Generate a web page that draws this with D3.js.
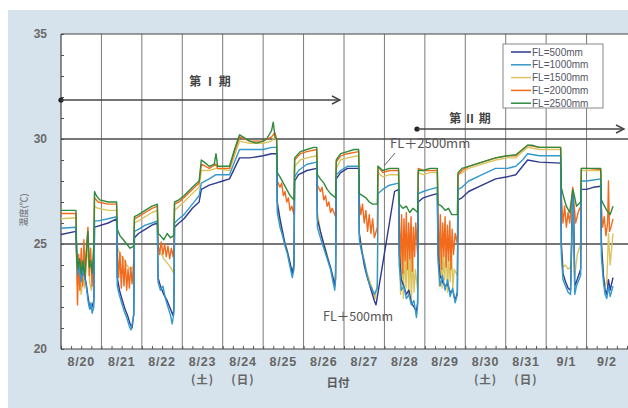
<!DOCTYPE html>
<html><head><meta charset="utf-8">
<script src="https://cdn.jsdelivr.net/npm/d3@7"></script>
<style>body{margin:0;background:#fff;} svg{display:block}</style>
</head><body><svg id="c" width="628" height="408"></svg>
<script>
// ---- data (hours from 8/20 00:00, °C) ----
const dayLabels = ["8/20","8/21","8/22","8/23","8/24","8/25","8/26","8/27","8/28","8/29","8/30","8/31","9/1","9/2"];
const dowLabels = [[3,"(土)"],[4,"(日)"],[10,"(土)"],[11,"(日)"]];
const yTicks = [20,25,30,35];
const seriesNames = ["FL=500mm","FL=1000mm","FL=1500mm","FL=2000mm","FL=2500mm"];
const seriesColors = ["#2d3a8f","#3399cc","#dcc35e","#f26a1b","#2e8b3e"];

const fl2500 = [[0,26.6],[8.9,26.6],[9.3,24.4],[10,23.8],[11,24.3],[12,23.6],[13,24.2],[14,23.5],[15,24.5],[16,25.6],[16.8,23.9],[17.6,24.2],[18.5,23.6],[19.5,25.0],[19.9,27.5],[21,27.3],[23,27.1],[28,27.0],[33,27.0],
[33.4,25.7],[35,25.4],[37,25.2],[39,25.0],[41,24.8],[43.2,24.9],[43.6,26.3],[46,26.4],[50,26.6],[54,26.8],[57.2,26.9],
[57.6,25.5],[59,25.4],[61,25.2],[63,25.5],[65,25.3],[67,25.4],[67.4,27.0],[70,27.1],[73,27.3],[78,27.7],[82,28.0],[83.3,29.0],[85,28.9],[88,28.7],[91,28.8],[92,29.3],[93,28.7],[100,28.7],[103,29.5],[106,30.2],[108,30.1],[112,29.9],[116,29.8],[120,29.9],[122,30.0],[125,30.4],[126,30.8],[127,30.1],[128,30.0],
[128.4,28.4],[130,28.2],[132,27.9],[134,27.6],[136,27.3],[138.3,27.1],[138.7,29.1],[142,29.4],[146,29.5],[150,29.6],[151.8,29.6],
[152.2,28.3],[154,28.1],[156,27.9],[158,27.6],[160,27.4],[163,27.2],[163.4,29.0],[166,29.3],[170,29.4],[174,29.5],[176.7,29.5],
[177.1,27.4],[179,27.3],[181,27.2],[183,27.0],[185,26.9],[187.8,26.9],[188.2,28.7],[191,28.5],[195,28.6],[200.4,28.6],
[200.8,26.9],[203,26.7],[205,26.8],[207,26.5],[209,26.7],[211.7,26.5],[212.1,28.5],[215,28.5],[219,28.6],[223.4,28.6],
[223.8,26.9],[226,26.8],[228,26.6],[230,26.7],[232,26.4],[235.3,26.4],[235.7,28.4],[238,28.6],[242,28.7],[250,28.9],[258,29.1],[265,29.2],[270,29.25],[274,29.5],[277,29.7],[280,29.7],[284,29.6],[296.6,29.6],
[297,27.7],[298.5,27.2],[300,26.8],[302,26.5],[303.8,27.6],[304.5,27.4],[306,26.8],[308.5,27.0],[308.9,28.6],[312,28.6],[316,28.6],[320.4,28.6],
[320.8,27.1],[322,26.9],[324,26.6],[326,26.4],[327.7,26.8]];

const fl2000 = [[0,26.45],[8.9,26.45],[9.3,24.0],[9.8,22.1],[10.5,24.5],[11.2,22.8],[12,24.8],[12.8,23.0],[13.6,25.2],[14.4,23.4],[15.2,25.0],[16,25.8],[16.8,23.5],[17.6,24.8],[18.4,23.0],[19.5,24.6],[19.9,27.2],[22,27.0],[28,26.9],[33,26.9],
[33.4,24.8],[34.2,23.4],[35,24.6],[35.8,22.9],[36.6,24.4],[37.4,23.0],[38.2,24.2],[39,22.8],[39.8,23.8],[40.6,22.9],[41.4,23.9],[42.2,23.1],[43.2,24.2],[43.6,26.2],[46,26.3],[50,26.5],[54,26.7],[57.2,26.8],
[57.6,25.0],[58.5,24.5],[59.5,25.1],[60.5,24.5],[61.5,25.0],[62.5,24.4],[63.5,24.9],[64.5,24.3],[65.5,24.8],[66.5,24.4],[67,24.8],[67.4,26.9],[70,27.0],[73,27.2],[78,27.6],[82,27.9],[83.3,28.8],[88,28.6],[92,28.8],[93,28.6],[100,28.6],[103,29.4],[106,30.1],[112,29.9],[120,29.9],[125,30.1],[127,30.3],[128,30.0],
[128.4,28.0],[130,27.7],[131,27.9],[132,27.3],[133,27.5],[134,27.0],[135,27.2],[136,26.6],[137,26.8],[138.3,26.4],[138.7,29.0],[142,29.3],[146,29.4],[151.8,29.5],
[152.2,27.8],[154,27.5],[155,27.7],[156,27.1],[157,27.3],[158,26.8],[159,27.0],[160,26.5],[161,26.7],[163,26.3],[163.4,28.9],[166,29.2],[170,29.3],[176.7,29.4],
[177.1,27.0],[178,26.4],[179,26.9],[180,26.0],[181,26.6],[182,25.6],[183,26.4],[184,25.5],[185,26.2],[186,25.3],[187.8,25.8],[188.2,28.7],[191,28.4],[195,28.5],[200.4,28.5],
[200.8,26.3],[201.5,24.0],[202.2,26.4],[202.9,23.6],[203.6,26.2],[204.3,24.2],[205,26.5],[205.7,23.8],[206.4,26.0],[207.1,24.3],[207.8,26.3],[208.5,23.7],[209.2,25.8],[209.9,24.4],[210.6,26.0],[211.7,24.5],[212.1,28.6],[215,28.5],[219,28.5],[223.4,28.5],
[223.8,26.2],[224.5,24.2],[225.2,26.4],[225.9,23.8],[226.6,26.0],[227.3,24.4],[228,26.3],[228.7,23.9],[229.4,25.9],[230.1,24.2],[230.8,26.1],[231.5,23.8],[232.2,25.7],[233,24.5],[234,25.5],[235.3,25.0],[235.7,28.3],[238,28.5],[242,28.7],[250,28.9],[258,29.1],[265,29.2],[270,29.2],[274,29.5],[277,29.7],[284,29.6],[296.6,29.6],
[297,27.3],[298,26.0],[299,26.8],[300,25.8],[301,26.5],[302,26.0],[303.8,27.7],[304.5,27.0],[305.5,26.0],[307,26.5],[308.5,26.8],[308.9,28.6],[312,28.6],[320.4,28.55],
[320.8,26.8],[321.5,25.8],[322.5,26.3],[323.5,25.4],[324.5,26.0],[325,28.0],[325.6,25.6],[326.5,25.8],[327.7,26.2]];

const fl1500 = [[0,26.2],[8.9,26.25],[9.3,24.2],[10,23.0],[11,23.6],[12,22.6],[13,23.4],[14,22.9],[15,24.0],[16,25.0],[17,23.2],[18,22.8],[19.5,23.6],[19.9,26.8],[22,26.7],[28,26.6],[33,26.6],
[33.4,24.9],[35,24.5],[37,24.3],[39,24.0],[41,23.8],[43.2,23.9],[43.6,26.0],[46,26.1],[50,26.3],[54,26.5],[57.2,26.6],
[57.6,24.9],[59,24.6],[61,24.3],[63,24.1],[65,23.9],[67,23.6],[67.4,26.6],[70,26.8],[73,27.0],[78,27.4],[82,27.7],[83.3,28.5],[88,28.5],[92,28.6],[100,28.5],[103,29.2],[106,29.9],[112,29.8],[120,29.8],[125,29.9],[127,30.1],[128,29.9],
[128.4,26.8],[130,26.0],[132,25.3],[134,24.8],[136,24.0],[137,23.7],[138.3,24.0],[138.7,28.7],[142,29.0],[146,29.1],[151.8,29.2],
[152.2,26.5],[154,25.6],[156,25.0],[158,24.5],[160,23.8],[162,23.1],[163,23.6],[163.4,28.6],[166,29.0],[170,29.1],[176.7,29.2],
[177.1,25.5],[179,24.6],[181,23.8],[183,23.3],[185,22.8],[186.5,22.4],[187.8,23.2],[188.2,28.4],[191,28.2],[195,28.3],[200.4,28.3],
[200.8,25.3],[201.6,22.6],[202.4,25.0],[203.2,22.4],[204,24.6],[204.8,22.9],[205.6,25.2],[206.4,22.5],[207.2,24.8],[208,22.3],[208.8,24.5],[209.6,22.7],[210.4,23.8],[211.7,22.8],[212.1,28.4],[215,28.3],[219,28.4],[223.4,28.4],
[223.8,25.5],[224.6,23.0],[225.4,25.0],[226.2,22.9],[227,24.5],[227.8,23.3],[228.6,25.2],[229.4,22.7],[230.2,24.4],[231,23.2],[231.8,24.8],[232.6,22.9],[233.4,23.8],[235.3,23.5],[235.7,28.3],[238,28.4],[242,28.6],[250,28.8],[258,29.0],[265,29.1],[270,29.1],[274,29.4],[277,29.6],[284,29.5],[296.6,29.5],
[297,25.0],[298,23.9],[299.5,24.0],[301,23.8],[302.5,23.9],[303.8,27.6],[304.5,25.5],[305,23.5],[306.5,24.5],[308.5,25.0],[308.9,28.5],[312,28.5],[320.4,28.5],
[320.8,25.2],[322,23.5],[323,23.0],[324,23.2],[325,25.5],[326,24.0],[327.7,25.5]];

const fl1000 = [[0,25.75],[8.9,25.8],[9.3,24.5],[10,23.5],[11,24.0],[12,23.2],[13,23.8],[14,23.4],[15,23.0],[16,22.3],[17,21.9],[17.8,22.2],[18.5,21.7],[19.5,22.0],[19.9,26.1],[22,26.1],[28,26.2],[33,26.3],
[33.4,23.0],[34.5,22.6],[36,22.2],[37.5,21.8],[39,21.5],[40.5,21.1],[41.5,20.9],[42.5,21.3],[43.2,21.6],[43.6,25.6],[46,25.7],[50,25.9],[54,26.0],[57.2,26.1],
[57.6,23.2],[59,22.8],[60.5,23.0],[62,22.4],[63.5,22.0],[65,21.6],[66,21.2],[67,21.7],[67.4,26.0],[70,26.2],[73,26.4],[78,26.9],[82,27.3],[83.3,27.9],[88,28.1],[92,28.3],[100,28.3],[103,28.9],[106,29.5],[112,29.5],[120,29.5],[125,29.6],[128,29.6],
[128.4,26.5],[130,25.8],[131.5,25.4],[133,24.9],[134.5,24.5],[136,23.9],[137.3,23.4],[138.3,23.8],[138.7,28.2],[141,28.5],[146,28.8],[151.8,28.9],
[152.2,25.8],[154,25.3],[156,24.8],[158,24.3],[160,23.8],[161.5,23.2],[162.5,22.8],[163,23.3],[163.4,28.3],[166,28.5],[170,28.7],[176.7,28.7],
[177.1,25.2],[178.5,24.6],[180,24.2],[181.5,23.6],[183,23.1],[184.5,22.9],[186,22.6],[187.8,22.9],[188.2,27.4],[191,27.6],[195,27.8],[200.4,27.9],
[200.8,24.0],[202,22.8],[203.5,23.0],[205,22.4],[206.5,22.6],[208,22.1],[209.5,22.3],[211,21.5],[211.7,22.0],[212.1,27.4],[215,27.5],[219,27.6],[223.4,27.7],
[223.8,24.2],[225,23.0],[226.5,23.5],[228,22.8],[229.5,23.3],[231,22.5],[232.5,22.9],[234,22.2],[235.3,22.6],[235.7,27.6],[238,27.7],[242,28.0],[250,28.3],[258,28.6],[265,28.6],[270,28.7],[274,29.0],[277,29.3],[284,29.2],[296.6,29.2],
[297,24.5],[298,23.3],[299.5,23.0],[301,22.7],[302.5,22.6],[303.8,27.5],[304.3,26.0],[305,22.6],[306,23.0],[308.5,23.5],[308.9,28.0],[312,28.0],[316,28.05],[320.4,28.1],
[320.8,24.4],[322,23.2],[323,22.6],[324,22.4],[325,23.0],[326,22.5],[327.7,23.0]];

const fl500 = [[0,25.45],[8.9,25.6],[9.3,24.6],[10,23.8],[11,24.2],[12,23.4],[13,23.9],[14,23.5],[15,23.1],[16,22.5],[17,22.0],[18,21.9],[19.5,22.3],[19.9,25.8],[22,25.85],[28,26.0],[33,26.2],
[33.4,23.4],[35,22.7],[36.5,22.3],[38,21.9],[39.5,21.6],[41,21.2],[42.2,21.0],[43.2,21.7],[43.6,25.3],[46,25.5],[50,25.7],[54,25.9],[57.2,26.0],
[57.6,23.4],[59,23.0],[61,22.6],[63,22.3],[65,21.9],[66.5,21.6],[67,21.9],[67.4,25.8],[70,26.0],[73,26.2],[78,26.7],[82,27.0],[83.3,27.6],[88,27.8],[92,27.9],[96,28.0],[100,28.1],[103,28.6],[106,29.1],[112,29.1],[120,29.2],[125,29.3],[128,29.3],
[128.4,27.0],[130,26.2],[131.5,25.6],[133,25.0],[134.5,24.6],[136,24.1],[137.3,23.6],[138.3,24.0],[138.7,28.0],[141,28.3],[146,28.5],[151.8,28.6],
[152.2,26.2],[154,25.6],[156,25.0],[158,24.4],[160,23.9],[161.5,23.4],[162.5,23.0],[163,23.4],[163.4,28.1],[166,28.4],[170,28.6],[176.7,28.6],
[177.1,25.5],[178.5,24.7],[180,24.0],[181.5,23.5],[183,23.1],[184.5,22.7],[186,22.3],[187,22.1],[198,27.5],[200.4,27.6],
[200.8,24.5],[202,23.3],[203.5,23.0],[205,22.6],[206.5,22.8],[208,22.2],[209.5,22.0],[211,21.8],[211.7,22.2],[212.1,27.0],[215,27.2],[219,27.3],[223.4,27.4],
[223.8,24.6],[225,23.5],[226.5,23.2],[228,23.0],[229.5,23.1],[231,22.7],[232.5,22.8],[234,22.3],[235.3,22.7],[235.7,27.1],[238,27.2],[242,27.5],[250,27.8],[258,28.1],[265,28.2],[270,28.3],[274,28.7],[277,29.0],[284,28.9],[296.6,28.85],
[297,25.0],[298,23.6],[299.5,23.2],[301,22.9],[302.5,22.8],[303.8,27.3],[304.3,26.5],[305,23.0],[306,23.2],[308.5,23.8],[308.9,27.6],[312,27.6],[316,27.7],[320.4,27.75],
[320.8,25.0],[322,23.5],[323,22.8],[324,22.6],[325,23.3],[326,22.8],[327.7,23.4]];

const seriesData = [fl500, fl1000, fl1500, fl2000, fl2500];
const drawOrder = [2, 3, 0, 1, 4];

// ---- layout ----
const svg = d3.select("#c");
const L = 61, R = 627, T = 34, B = 349;
const x = d3.scaleLinear().domain([0, 336]).range([L, R]);
const y = d3.scaleLinear().domain([20, 35]).range([B, T]);
const num = "'Liberation Sans', Arial, sans-serif";
const cjk = "'Noto Sans CJK JP', sans-serif";

svg.append("rect").attr("width",628).attr("height",408).attr("fill","#ffffff");
svg.append("rect").attr("x",8).attr("y",10).attr("width",620).attr("height",398).attr("fill","#d6e3ec");
svg.append("rect").attr("x",L).attr("y",T).attr("width",R-L+1).attr("height",B-T).attr("fill","#ffffff");

// vertical day grid
svg.append("g").selectAll("line").data(d3.range(1,14)).join("line")
  .attr("x1",d=>x(d*24)).attr("x2",d=>x(d*24)).attr("y1",T).attr("y2",B)
  .attr("stroke","#7a7a7a").attr("stroke-width",1);
// horizontal grid at 25, 30
svg.append("g").selectAll("line").data([25,30]).join("line")
  .attr("x1",L).attr("x2",628).attr("y1",d=>y(d)).attr("y2",d=>y(d))
  .attr("stroke","#4a4a4a").attr("stroke-width",1.3);

// axes
const yAxis = d3.axisLeft(y).tickValues(d3.range(20,36,1)).tickSize(-3).tickFormat("");
const gy = svg.append("g").attr("transform",`translate(${L},0)`).call(yAxis);
gy.select(".domain").remove();
gy.selectAll("line").attr("stroke","#555");
const xAxis = d3.axisBottom(x).tickValues(d3.range(0,337,6)).tickSize(-3).tickFormat("");
const gx = svg.append("g").attr("transform",`translate(0,${B})`).call(xAxis);
gx.select(".domain").remove();
gx.selectAll("line").attr("stroke","#555");

// frame
svg.append("line").attr("x1",L).attr("x2",628).attr("y1",T).attr("y2",T).attr("stroke","#444").attr("stroke-width",1.2);
svg.append("line").attr("x1",L).attr("x2",628).attr("y1",B).attr("y2",B).attr("stroke","#444").attr("stroke-width",1.2);
svg.append("line").attr("x1",L).attr("x2",L).attr("y1",T).attr("y2",B).attr("stroke","#444").attr("stroke-width",1.2);

// y labels
svg.append("g").selectAll("text").data(yTicks).join("text")
  .attr("x",47).attr("y",d=>y(d)+4).attr("text-anchor","end")
  .attr("font-family",num).attr("font-size",12).attr("font-weight","bold")
  .attr("fill","#6a6a6a").text(d=>d);
svg.append("text").attr("transform","translate(27,210) rotate(-90)")
  .attr("text-anchor","middle").attr("font-family",cjk).attr("font-size",9)
  .attr("fill","#666").text("温度(℃)");

// x labels
svg.append("g").selectAll("text").data(dayLabels).join("text")
  .attr("x",(d,i)=>x(i*24+12)).attr("y",366).attr("text-anchor","middle")
  .attr("font-family",num).attr("font-size",12.5).attr("font-weight","bold")
  .attr("letter-spacing",0.8).attr("fill","#666").text(d=>d);
svg.append("g").selectAll("text").data(dowLabels).join("text")
  .attr("x",d=>x(d[0]*24+12)).attr("y",384).attr("text-anchor","middle")
  .attr("font-family",cjk).attr("font-size",11.5).attr("font-weight","bold")
  .attr("letter-spacing",1).attr("fill","#666").text(d=>d[1]);
svg.append("text").attr("x",338).attr("y",387).attr("text-anchor","middle")
  .attr("font-family",cjk).attr("font-size",11.5).attr("font-weight","bold")
  .attr("fill","#5a5a5a").text("日付");

// series
const line = d3.line().x(d=>x(d[0])).y(d=>y(d[1]));
const gl = svg.append("g");
drawOrder.forEach(i=>{
  gl.append("path").datum(seriesData[i]).attr("d",line)
    .attr("fill","none").attr("stroke",seriesColors[i]).attr("stroke-width",1.4)
    .attr("stroke-linejoin","round");
});

// period arrows
function arrow(x1,x2,yy){
  svg.append("circle").attr("cx",x1).attr("cy",yy).attr("r",2.6).attr("fill","#222");
  svg.append("line").attr("x1",x1).attr("x2",x2).attr("y1",yy).attr("y2",yy).attr("stroke","#444").attr("stroke-width",1.4);
  svg.append("path").attr("d",`M${x2-8},${yy-4}L${x2},${yy}L${x2-8},${yy+4}`)
    .attr("fill","none").attr("stroke","#444").attr("stroke-width",1.4);
}
arrow(61,340,100);
arrow(417,624,129);
svg.append("text").attr("x",210).attr("y",86).attr("text-anchor","middle")
  .attr("font-family",cjk).attr("font-size",12).attr("font-weight","bold").attr("fill","#444").text("第 Ⅰ 期");
svg.append("text").attr("x",470).attr("y",123).attr("text-anchor","middle")
  .attr("font-family",cjk).attr("font-size",12).attr("font-weight","bold").attr("fill","#444").text("第 Ⅱ 期");

// annotations
svg.append("text").attr("x",390).attr("y",148).attr("font-family",cjk).attr("font-size",13)
  .attr("fill","#555").text("FL＋2500mm");
svg.append("line").attr("x1",395).attr("y1",153).attr("x2",384).attr("y2",166).attr("stroke","#666").attr("stroke-width",1);
svg.append("text").attr("x",323).attr("y",321).attr("font-family",cjk).attr("font-size",12.5)
  .attr("fill","#555").text("FL＋500mm");

// legend
const lg = svg.append("g");
lg.append("rect").attr("x",503).attr("y",44).attr("width",100).attr("height",64)
  .attr("fill","#fff").attr("stroke","#888").attr("stroke-width",1);
seriesNames.forEach((n,i)=>{
  const yy = 52 + i*12.8;
  lg.append("line").attr("x1",511).attr("x2",531).attr("y1",yy).attr("y2",yy)
    .attr("stroke",seriesColors[i]).attr("stroke-width",1.5);
  lg.append("text").attr("x",532).attr("y",yy+3.5).attr("font-family",num).attr("font-size",10)
    .attr("fill","#556").text(n);
});
</script></body></html>
